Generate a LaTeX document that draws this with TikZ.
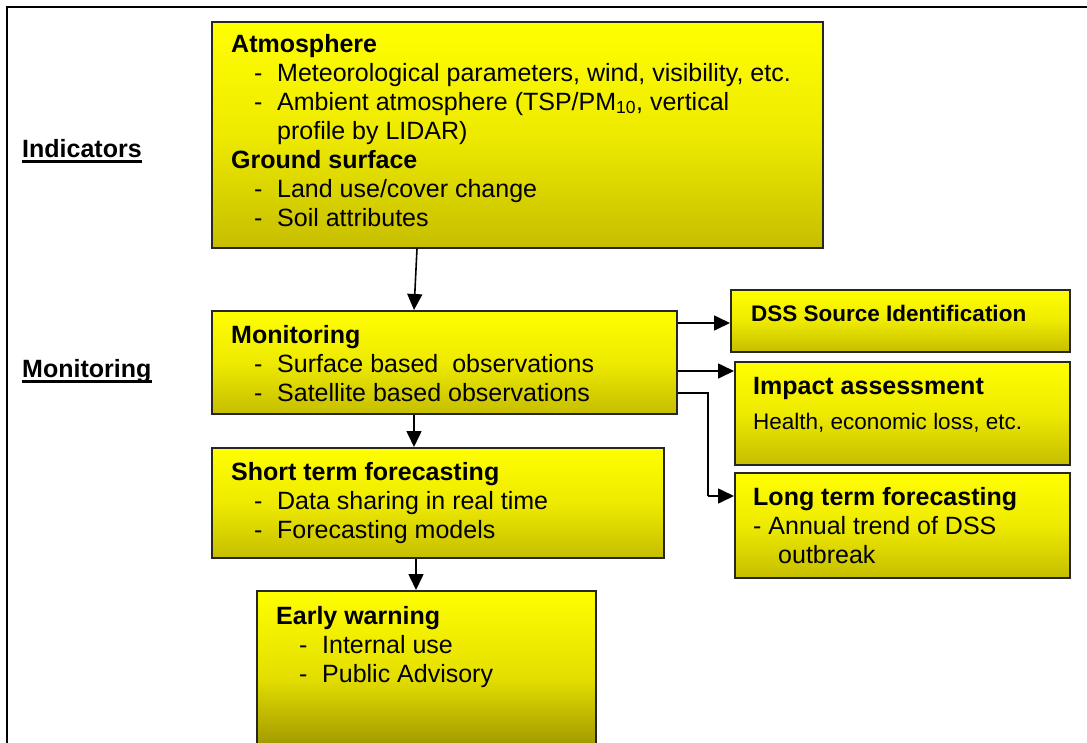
\documentclass[tikz,border=0pt]{standalone}
\usepackage{fontspec}
\setmainfont{Liberation Sans}
\usetikzlibrary{arrows.meta}
\definecolor{ytop}{RGB}{255,255,0}
\definecolor{ymid}{RGB}{238,234,0}
\definecolor{ybot}{RGB}{198,190,0}
\definecolor{ewmid}{RGB}{228,222,0}
\definecolor{ewbot}{RGB}{140,132,0}
\newcommand\fbig{\fontsize{25}{29}\selectfont}
\newcommand\fsmall{\fontsize{22.5}{27}\selectfont}
\newcommand\itm[1]{\makebox[46pt][l]{\hspace{23pt}-}#1}
\begin{document}
\begin{tikzpicture}[x=1pt,y=-1pt,
  box/.style={draw=black!85, line width=1.5pt, top color=ytop, bottom color=ybot, middle color=ymid, inner sep=0pt, anchor=north west},
  txt/.style={anchor=base west, inner sep=0pt, font=\fbig},
  stxt/.style={anchor=base west, inner sep=0pt, font=\fsmall},
  lab/.style={anchor=base west, inner sep=0pt, font=\fbig\bfseries},
  uline/.style={line width=2.2pt},
  arr/.style={line width=1.6pt, -{Triangle[length=16pt,width=15pt]}},
  flow/.style={line width=1.6pt}]
\useasboundingbox (0,0) rectangle (1087,742);
% outer frame (top and left edges visible)
\draw[line width=2pt] (7,750) -- (7,7) -- (1095,7);

% boxes
\node[box, minimum width=611pt, minimum height=226pt] (atm) at (211,21) {};
\node[box, minimum width=465pt, minimum height=103pt] (mon) at (211,310) {};
\node[box, minimum width=452pt, minimum height=110pt] (st) at (211,447) {};
\node[box, minimum width=339pt, minimum height=175pt, bottom color=ewbot, middle color=ewmid] (ew) at (256,590) {};
\node[box, minimum width=339pt, minimum height=62pt] (dss) at (730,289) {};
\node[box, minimum width=335pt, minimum height=103pt] (imp) at (734,361) {};
\node[box, minimum width=335pt, minimum height=105pt] (lt) at (734,472) {};

% side labels
\node[lab] (ind) at (22,157) {Indicators};
\draw[uline] ([yshift=-4.5pt]ind.base west) -- ([yshift=-4.5pt]ind.base east);
\node[lab] (monl) at (22,377) {Monitoring};
\draw[uline] ([yshift=-4.5pt]monl.base west) -- ([yshift=-4.5pt]monl.base east);

% box texts
\node[txt] (atmtext) at (231,52) {\begin{tabular}[t]{@{}l@{}}\textbf{Atmosphere}\\
\itm{Meteorological parameters, wind, visibility, etc.}\\
\itm{Ambient atmosphere (TSP/PM\textsubscript{10}, vertical}\\
\hspace{46pt}profile by LIDAR)\\
\textbf{Ground surface}\\
\itm{Land use/cover change}\\
\itm{Soil attributes}\end{tabular}};

\node[txt] (montext) at (231,343) {\begin{tabular}[t]{@{}l@{}}\textbf{Monitoring}\\
\itm{Surface based\ \ observations}\\
\itm{Satellite based observations}\end{tabular}};

\node[txt] (sttext) at (231,480) {\begin{tabular}[t]{@{}l@{}}\textbf{Short term forecasting}\\
\itm{Data sharing in real time}\\
\itm{Forecasting models}\end{tabular}};

\node[txt] (ewtext) at (276,624) {\begin{tabular}[t]{@{}l@{}}\textbf{Early warning}\\
\itm{Internal use}\\
\itm{Public Advisory}\end{tabular}};

\node[stxt] (dsstext) at (751,321) {\textbf{DSS Source Identification}};
\node[txt] (imptitle) at (753,394) {\textbf{Impact assessment}};
\node[stxt] (imptext) at (753,429) {Health, economic loss, etc.};

\node[txt] (lttext) at (753,505) {\begin{tabular}[t]{@{}l@{}}\textbf{Long term forecasting}\\
- Annual trend of DSS\\
\hspace{25pt}outbreak\end{tabular}};

% connectors
\draw[arr] ([xshift=206pt]atm.south west) -- ([xshift=203pt]mon.north west);
\draw[arr] ([xshift=203pt]mon.south west) -- ([xshift=203pt]st.north west);
\draw[arr] ([xshift=205pt]st.south west) -- ([xshift=160pt]ew.north west);
\coordinate (m1) at ([yshift=-13pt]mon.north east);
\coordinate (m2) at ([yshift=-61pt]mon.north east);
\coordinate (m3) at ([yshift=-83pt]mon.north east);
\coordinate (l1) at ([yshift=-24pt]lt.north west);
\coordinate (k1) at ([xshift=-26pt]l1);
\draw[arr] (m1) -- (m1 -| dss.west);
\draw[arr] (m2) -- (m2 -| imp.west);
\draw[flow] (m3) -| (k1);
\draw[arr] (k1) -- (l1);
\end{tikzpicture}
\end{document}
